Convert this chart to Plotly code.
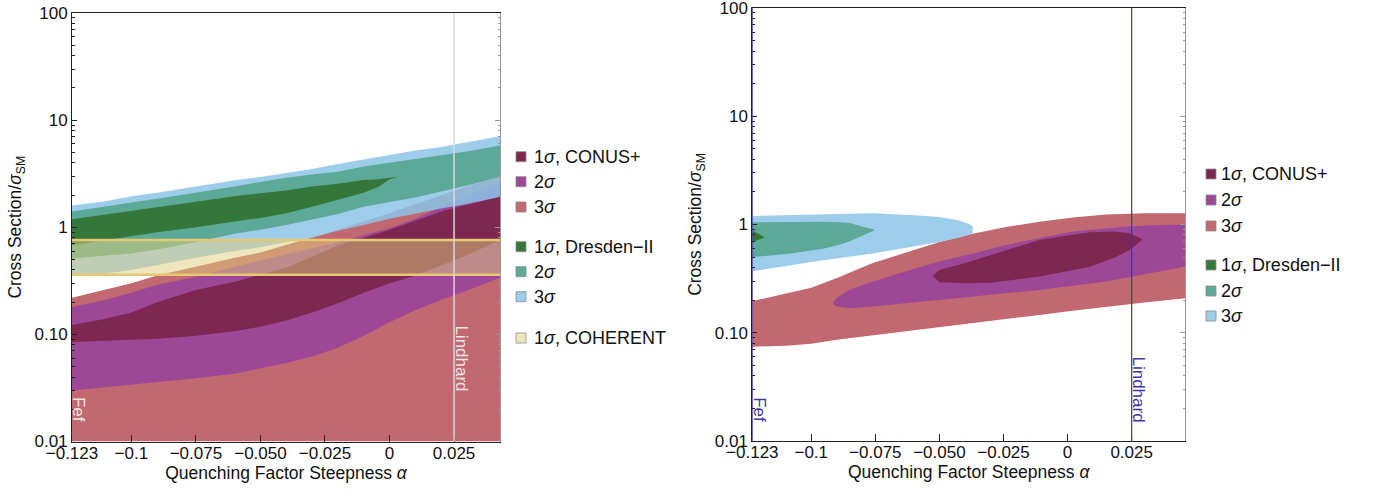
import plotly.graph_objects as go

W, H = 1379, 500

# ---------------- data: left panel ----------------
alpha_L = [-0.123, -0.11, -0.1, -0.09, -0.075, -0.06, -0.05, -0.04, -0.03, -0.02, -0.01, 0.0, 0.01, 0.02, 0.03, 0.043]
conusL_3s_hi = [0.22, 0.26, 0.30, 0.355, 0.43, 0.52, 0.58, 0.68, 0.80, 0.95, 1.13, 1.35, 1.65, 2.0, 2.4, 3.0]
conusL_3s_lo = [0.01, 0.01, 0.01, 0.01, 0.01, 0.01, 0.01, 0.01, 0.01, 0.01, 0.01, 0.01, 0.01, 0.01, 0.01, 0.01]
conusL_2s_hi = [0.18, 0.21, 0.245, 0.29, 0.345, 0.43, 0.49, 0.56, 0.63, 0.72, 0.84, 0.98, 1.2, 1.55, 1.95, 2.6]
conusL_2s_lo = [0.030, 0.032, 0.034, 0.036, 0.039, 0.043, 0.048, 0.054, 0.062, 0.075, 0.097, 0.13, 0.168, 0.21, 0.255, 0.34]
conusL_1s_hi = [0.122, 0.14, 0.16, 0.20, 0.26, 0.31, 0.36, 0.42, 0.53, 0.68, 0.80, 0.95, 1.15, 1.40, 1.62, 1.93]
conusL_1s_lo = [0.085, 0.087, 0.089, 0.091, 0.097, 0.107, 0.118, 0.135, 0.16, 0.195, 0.245, 0.30, 0.355, 0.44, 0.55, 0.76]

dresL_3s_hi = [1.6, 1.75, 1.95, 2.1, 2.4, 2.75, 2.95, 3.2, 3.5, 3.9, 4.3, 4.7, 5.2, 5.6, 6.2, 7.1]
dresL_3s_lo = [0.36, 0.37, 0.40, 0.44, 0.52, 0.60, 0.65, 0.73, 0.80, 0.93, 1.05, 1.2, 1.35, 1.5, 1.65, 1.93]
dresL_2s_hi = [1.4, 1.55, 1.7, 1.85, 2.1, 2.4, 2.65, 2.9, 3.1, 3.3, 3.7, 4.0, 4.3, 4.7, 5.1, 5.8]
dresL_2s_lo = [0.51, 0.54, 0.57, 0.62, 0.73, 0.87, 0.95, 1.05, 1.18, 1.33, 1.55, 1.72, 1.9, 2.14, 2.45, 2.97]
alpha_L_green = [-0.123, -0.11, -0.1, -0.09, -0.075, -0.06, -0.05, -0.04, -0.03, -0.02, -0.01, -0.004, 0.0, 0.003]
dresL_1s_hi = [1.19, 1.32, 1.42, 1.55, 1.72, 1.95, 2.08, 2.2, 2.4, 2.55, 2.76, 2.8, 2.9, 2.95]
dresL_1s_lo = [0.68, 0.76, 0.83, 0.9, 1.0, 1.13, 1.22, 1.35, 1.55, 1.8, 2.1, 2.4, 2.8, 2.95]

coh_alpha = [-0.123, 0.043]
coh_lo = [0.36, 0.36]
coh_hi = [0.76, 0.76]

# ---------------- data: right panel ----------------
alpha_R_red = [-0.123, -0.11, -0.1, -0.09, -0.076, -0.063, -0.05, -0.037, -0.024, -0.011, 0.002, 0.015, 0.03, 0.046]
conusR_3s_hi = [0.196, 0.23, 0.26, 0.32, 0.44, 0.55, 0.69, 0.82, 0.95, 1.06, 1.16, 1.24, 1.27, 1.27]
conusR_3s_lo = [0.0743, 0.076, 0.079, 0.086, 0.094, 0.102, 0.112, 0.122, 0.134, 0.146, 0.16, 0.174, 0.19, 0.208]
alpha_R_mag = [-0.0915, -0.09, -0.085, -0.076, -0.063, -0.05, -0.037, -0.024, -0.011, 0.002, 0.015, 0.022, 0.035, 0.046]
conusR_2s_hi = [0.19, 0.21, 0.25, 0.297, 0.37, 0.454, 0.54, 0.648, 0.75, 0.86, 0.92, 0.955, 0.99, 1.0]
conusR_2s_lo = [0.183, 0.175, 0.168, 0.175, 0.187, 0.20, 0.216, 0.232, 0.248, 0.272, 0.297, 0.32, 0.365, 0.408]
alpha_R_mar = [-0.0525, -0.05, -0.04, -0.03, -0.02, -0.011, 0.0, 0.0087, 0.018, 0.0243, 0.0289]
conusR_1s_hi = [0.34, 0.38, 0.44, 0.52, 0.61, 0.72, 0.79, 0.85, 0.86, 0.83, 0.74]
conusR_1s_lo = [0.33, 0.292, 0.287, 0.29, 0.31, 0.33, 0.37, 0.408, 0.49, 0.58, 0.72]

alpha_R_blue = [-0.123, -0.1, -0.076, -0.06, -0.05, -0.043, -0.038, -0.037]
dresR_3s_hi = [1.20, 1.24, 1.27, 1.22, 1.17, 1.10, 1.0, 0.96]
dresR_3s_lo = [0.37, 0.45, 0.54, 0.63, 0.69, 0.75, 0.81, 0.84]
alpha_R_teal = [-0.123, -0.108, -0.095, -0.089, -0.085, -0.081, -0.0755]
dresR_2s_hi = [1.05, 1.06, 1.06, 1.05, 1.03, 0.97, 0.90]
dresR_2s_lo = [0.50, 0.54, 0.60, 0.65, 0.70, 0.77, 0.88]
alpha_R_green = [-0.123, -0.121, -0.1185]
dresR_1s_hi = [0.88, 0.83, 0.77]
dresR_1s_lo = [0.68, 0.72, 0.75]

lindhard_alpha = 0.025
fef_alpha = -0.123

y_tickvals = [0.01, 0.1, 1, 10, 100]
y_ticktext = ["0.01", "0.10", "1", "10", "100"]
x_tickvals = [-0.123, -0.1, -0.075, -0.05, -0.025, 0, 0.025]
x_ticktext = ["\u22120.123", "\u22120.1", "\u22120.075", "\u22120.050", "\u22120.025", "0", "0.025"]

legL_labels = ["1<i>\u03c3</i>, CONUS+", "2<i>\u03c3</i>", "3<i>\u03c3</i>",
               "1<i>\u03c3</i>, Dresden\u2212II", "2<i>\u03c3</i>", "3<i>\u03c3</i>",
               "1<i>\u03c3</i>, COHERENT"]
legR_labels = legL_labels[:6]

# ---------------- styles ----------------
C_MAROON = "#7D2751"
C_MAGENTA = "#9D4897"
C_RED = "#C26871"
C_GREEN = "#35763A"
C_TEAL = "#5BA996"
C_BLUE = "#9DCDEA"
C_BLUE_T = "rgba(140,196,230,0.85)"
C_COH = "#EFE6BE"
C_COH_T = "rgba(223,205,123,0.5)"
C_COH_EDGE = "#E6C870"
C_REF = "#3F35A2"

legL_colors = [C_MAROON, C_MAGENTA, C_RED, C_GREEN, C_TEAL, C_BLUE, C_COH]
legR_colors = legL_colors[:6]
legL_rows = [156.7, 181.7, 207, 246.7, 271.7, 296.7, 338]
legR_rows = [174, 200, 226, 265, 291, 316]

FONT = "Liberation Sans, Arial, sans-serif"


def px_x(p):
    return p / W


def px_y(p):
    return 1 - p / H


fig = go.Figure()


def band(x, lo, hi, color, xa, ya):
    fig.add_trace(go.Scatter(
        x=list(x) + list(x)[::-1], y=list(hi) + list(lo)[::-1],
        fill="toself", fillcolor=color, mode="lines", line=dict(width=0),
        hoverinfo="skip", showlegend=False, xaxis=xa, yaxis=ya))


# left panel
band(alpha_L, conusL_3s_lo, conusL_3s_hi, C_RED, "x", "y")
band(alpha_L, conusL_2s_lo, conusL_2s_hi, C_MAGENTA, "x", "y")
band(alpha_L, conusL_1s_lo, conusL_1s_hi, C_MAROON, "x", "y")
band(alpha_L, dresL_3s_lo, dresL_3s_hi, C_BLUE_T, "x", "y")
band(alpha_L, dresL_2s_lo, dresL_2s_hi, C_TEAL, "x", "y")
band(alpha_L_green, dresL_1s_lo, dresL_1s_hi, C_GREEN, "x", "y")
band(coh_alpha, coh_lo, coh_hi, C_COH_T, "x", "y")
for yy in (coh_lo, coh_hi):
    fig.add_trace(go.Scatter(x=coh_alpha, y=yy, mode="lines",
                             line=dict(color=C_COH_EDGE, width=2.5),
                             hoverinfo="skip", showlegend=False, xaxis="x", yaxis="y"))

# right panel
band(alpha_R_red, conusR_3s_lo, conusR_3s_hi, C_RED, "x2", "y2")
band(alpha_R_mag, conusR_2s_lo, conusR_2s_hi, C_MAGENTA, "x2", "y2")
band(alpha_R_mar, conusR_1s_lo, conusR_1s_hi, C_MAROON, "x2", "y2")
band(alpha_R_blue, dresR_3s_lo, dresR_3s_hi, C_BLUE, "x2", "y2")
band(alpha_R_teal, dresR_2s_lo, dresR_2s_hi, C_TEAL, "x2", "y2")
band(alpha_R_green, dresR_1s_lo, dresR_1s_hi, C_GREEN, "x2", "y2")

# dummy traces to carry the right-hand frame axes
fig.add_trace(go.Scatter(x=[None], y=[None], xaxis="x", yaxis="y3", showlegend=False))
fig.add_trace(go.Scatter(x=[None], y=[None], xaxis="x2", yaxis="y4", showlegend=False))

minor_vals = [k * 10.0 ** e for e in (-2, -1, 0, 1) for k in range(2, 10)]

xdomL = [72 / W, 500 / W]
xdomR = [752.3 / W, 1185 / W]
ydomL = [px_y(441.5), px_y(13)]
ydomR = [px_y(441), px_y(8)]

tickfont = dict(family=FONT, size=17, color="#111")
titlefont = dict(family=FONT, size=17.5, color="#111")


def xaxis(dom, rng, anchor):
    return dict(domain=dom, range=rng, anchor=anchor, tickmode="array",
                tickvals=x_tickvals, ticktext=x_ticktext, ticks="inside",
                ticklen=7, tickcolor="#222", showline=True, linecolor="#222",
                linewidth=1, mirror=True, showgrid=False, zeroline=False,
                tickfont=tickfont, automargin=False, ticklabelstandoff=-4,
                ticklabeloverflow="allow",
                title=dict(text="Quenching Factor Steepness <i>\u03b1</i>",
                           font=titlefont, standoff=1))


def yaxis(dom, anchor):
    return dict(domain=dom, type="log", range=[-2, 2], anchor=anchor,
                tickmode="array", tickvals=y_tickvals, ticktext=y_ticktext,
                ticks="inside", ticklen=5, tickcolor="#222", showline=True,
                linecolor="#222", linewidth=1, showgrid=False, zeroline=False,
                tickfont=tickfont, automargin=False, ticklabeloverflow="allow",
                minor=dict(tickmode="array", tickvals=minor_vals, ticks="inside",
                           ticklen=2.5, tickcolor="#222", showgrid=False),
                title=dict(text="Cross Section/<i>\u03c3</i><sub>SM</sub>",
                           font=titlefont, standoff=8))


def yframe(dom, anchor, over):
    return dict(domain=dom, type="log", range=[-2, 2], anchor=anchor,
                overlaying=over, side="right", tickmode="array",
                tickvals=y_tickvals, showticklabels=False, ticks="inside",
                ticklen=5, tickcolor="#999", showline=True, linecolor="#999",
                linewidth=1, showgrid=False, zeroline=False, automargin=False,
                minor=dict(tickmode="array", tickvals=minor_vals, ticks="inside",
                           ticklen=2.5, tickcolor="#999", showgrid=False))


fig.update_layout(
    width=W, height=H, margin=dict(l=0, r=0, t=0, b=0, autoexpand=False),
    paper_bgcolor="white", plot_bgcolor="white", showlegend=False,
    font=dict(family=FONT, size=17, color="#111"),
    xaxis=xaxis(xdomL, [-0.123, 0.0428], "y"),
    yaxis=yaxis(ydomL, "x"),
    xaxis2=xaxis(xdomR, [-0.123, 0.0458], "y2"),
    yaxis2=yaxis(ydomR, "x2"),
    yaxis3=yframe(ydomL, "x", "y"),
    yaxis4=yframe(ydomR, "x2", "y2"),
)

shapes = []
annotations = []

# reference lines
shapes.append(dict(type="line", xref="x", yref="y domain", x0=lindhard_alpha, x1=lindhard_alpha,
                   y0=0, y1=1, line=dict(color="#D9D9D9", width=1.5), layer="above"))
shapes.append(dict(type="line", xref="x2", yref="y2 domain", x0=lindhard_alpha, x1=lindhard_alpha,
                   y0=0, y1=1, line=dict(color=C_REF, width=1.2), layer="above"))
shapes.append(dict(type="line", xref="x2", yref="y2 domain", x0=fef_alpha, x1=fef_alpha,
                   y0=0, y1=1, line=dict(color=C_REF, width=1.5), layer="above"))

lab_font_L = dict(family=FONT, size=17, color="#EDE4E4")
lab_font_R = dict(family=FONT, size=17, color=C_REF)
annotations += [
    dict(xref="x", yref="y", x=0.0279, y=-1.22, text="Lindhard", textangle=90,
         showarrow=False, font=lab_font_L, xanchor="center", yanchor="middle"),
    dict(xref="x", yref="y", x=-0.1205, y=-1.70, text="Fef", textangle=90,
         showarrow=False, font=lab_font_L, xanchor="center", yanchor="middle"),
    dict(xref="x2", yref="y2", x=0.0277, y=-1.52, text="Lindhard", textangle=90,
         showarrow=False, font=lab_font_R, xanchor="center", yanchor="middle"),
    dict(xref="x2", yref="y2", x=-0.1202, y=-1.71, text="Fef", textangle=90,
         showarrow=False, font=lab_font_R, xanchor="center", yanchor="middle"),
]


def legend(labels, colors, rows, sq_cx, txt_x):
    for lab, col, ry in zip(labels, colors, rows):
        shapes.append(dict(type="rect", xref="paper", yref="paper",
                           x0=px_x(sq_cx - 5), x1=px_x(sq_cx + 5),
                           y0=px_y(ry + 5), y1=px_y(ry - 5),
                           fillcolor=col, line=dict(color="#8a8a8a", width=0.8)))
        annotations.append(dict(xref="paper", yref="paper", x=px_x(txt_x), y=px_y(ry),
                                text=lab, showarrow=False, xanchor="left", yanchor="middle",
                                font=dict(family=FONT, size=18, color="#111")))


legend(legL_labels, legL_colors, legL_rows, 521, 532)
legend(legR_labels, legR_colors, legR_rows, 1211, 1219)

fig.update_layout(shapes=shapes, annotations=annotations)

fig.write_html("out.html", config={"displayModeBar": False},
               post_script="document.body.style.margin='0px';")
